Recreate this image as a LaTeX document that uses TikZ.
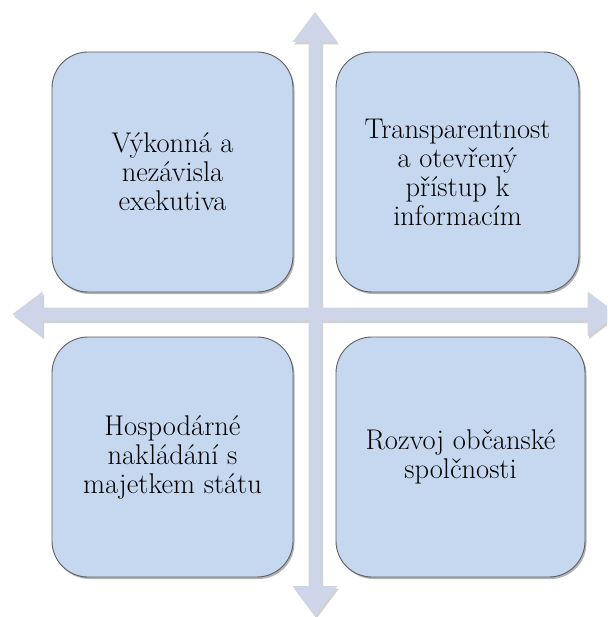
\documentclass[tikz,border=0pt]{standalone}
\usepackage{fontspec}
\usepackage{tikz}
\usetikzlibrary{shadows}
\definecolor{boxfill}{RGB}{198,216,239}
\definecolor{boxline}{RGB}{95,95,100}
\definecolor{arrowfill}{RGB}{206,213,232}
\tikzset{
	quadstyle/.style={rectangle,draw=boxline,line width=0.9pt,fill=boxfill,rounded corners=36pt,
		inner sep=0pt,minimum height=240pt,align=center,
		font=\fontsize{28.5}{29}\selectfont,
		drop shadow={shadow xshift=1.5pt,shadow yshift=-2pt,opacity=0.3,fill=black}},
	crossstyle/.style={fill=arrowfill,
		drop shadow={shadow xshift=1.5pt,shadow yshift=-2.5pt,opacity=0.18,fill=black}}
}

\begin{document}
\begin{tikzpicture}[x=1pt,y=-1pt]
	\useasboundingbox (0,0) rectangle (607,617);
	\clip (0,0) rectangle (607,617);
	% cross of block arrows
	\fill[crossstyle,shift={(315,314)}]
		(-302.5,0) -- (-272.5,-22.5) -- (-272.5,-6.5) -- (272.5,-6.5) -- (272.5,-22.5) -- (302.5,0)
		-- (272.5,22.5) -- (272.5,6.5) -- (-272.5,6.5) -- (-272.5,22.5) -- cycle
		(0,-302) -- (22.5,-272) -- (6.5,-272) -- (6.5,272) -- (22.5,272) -- (0,302)
		-- (-22.5,272) -- (-6.5,272) -- (-6.5,-272) -- (-22.5,-272) -- cycle;
	% quadrants
	\node[quadstyle,minimum width=241pt] (vykon) at (172.5,172) {Výkonná a\\nezávisla\\exekutiva};
	\node[quadstyle,minimum width=243pt] (transp) at (457.5,172) {Transparentnost\\a otevřený\\přístup k\\informacím};
	\node[quadstyle,minimum width=241pt] (hosp) at (172.5,457) {Hospodárné\\nakládání s\\majetkem státu};
	\node[quadstyle,minimum width=249pt] (rozvoj) at (460.5,457) {Rozvoj občanské\\spolčnosti};
\end{tikzpicture}
\end{document}
